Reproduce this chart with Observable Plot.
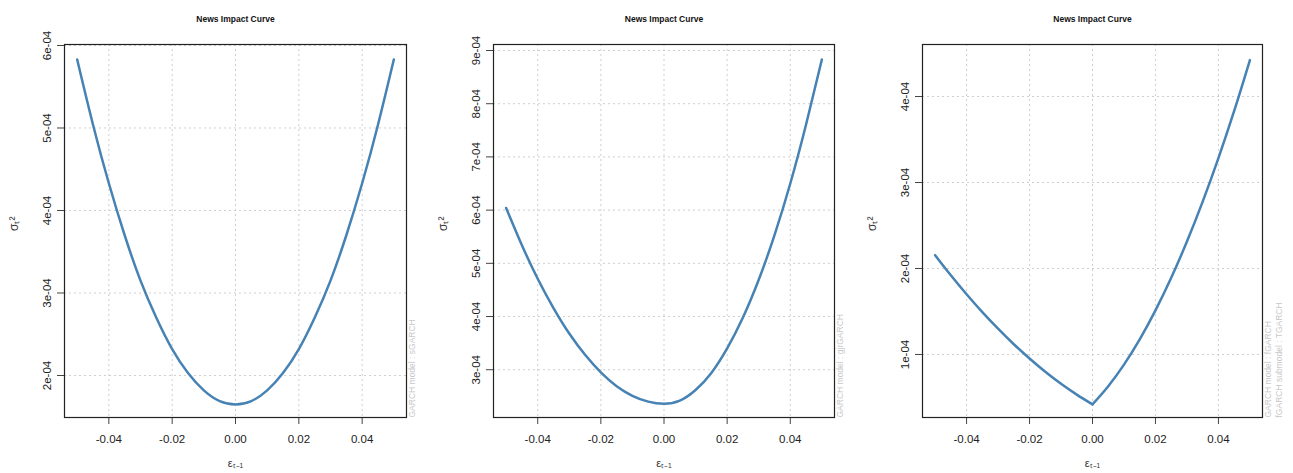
<!DOCTYPE html>
<html>
<head>
<meta charset="utf-8">
<script src="https://cdn.jsdelivr.net/npm/d3@7"></script>
<script src="https://cdn.jsdelivr.net/npm/@observablehq/plot@0.6"></script>
<style>
  html, body { margin: 0; padding: 0; background: #fff; }
  #row { display: flex; width: 1293px; height: 473px; }
</style>
</head>
<body>
<div id="row"></div>
<script>
// Shocks (x values) shared by all three panels
const eps = [-0.05, -0.045, -0.04, -0.035, -0.03, -0.025, -0.02, -0.015, -0.01, -0.005, 0,
             0.005, 0.01, 0.015, 0.02, 0.025, 0.03, 0.035, 0.04, 0.045, 0.05];

// Conditional variance
const sgarchVar = [5.83e-4, 5.04e-4, 4.33e-4, 3.70e-4, 3.15e-4, 2.70e-4, 2.32e-4, 2.03e-4, 1.82e-4, 1.69e-4, 1.65e-4,
                   1.69e-4, 1.82e-4, 2.03e-4, 2.32e-4, 2.70e-4, 3.15e-4, 3.70e-4, 4.33e-4, 5.04e-4, 5.83e-4];
const gjrVar = [6.04e-4, 5.34e-4, 4.71e-4, 4.16e-4, 3.68e-4, 3.28e-4, 2.95e-4, 2.69e-4, 2.51e-4, 2.40e-4, 2.36e-4,
                2.42e-4, 2.62e-4, 2.94e-4, 3.40e-4, 3.98e-4, 4.69e-4, 5.53e-4, 6.50e-4, 7.61e-4, 8.83e-4];
const tgarchVar = [2.155e-4, 1.921e-4, 1.700e-4, 1.493e-4, 1.300e-4, 1.119e-4, 0.953e-4, 0.799e-4, 0.659e-4, 0.533e-4, 0.42e-4,
                   0.630e-4, 0.882e-4, 1.176e-4, 1.513e-4, 1.892e-4, 2.313e-4, 2.777e-4, 3.283e-4, 3.832e-4, 4.423e-4];

// Tick labels
const xTicks = [-0.04, -0.02, 0, 0.02, 0.04];
const yTicks1 = [2e-4, 3e-4, 4e-4, 5e-4, 6e-4];
const yTicks2 = [3e-4, 4e-4, 5e-4, 6e-4, 7e-4, 8e-4, 9e-4];
const yTicks3 = [1e-4, 2e-4, 3e-4, 4e-4];

// Texts
const titleText = "News Impact Curve";
const xLabel = "εₜ₋₁";
const yLabel = "σₜ²";
const notes1 = ["GARCH model : sGARCH"];
const notes2 = ["GARCH model : gjrGARCH"];
const notes3 = ["GARCH model : fGARCH", "fGARCH submodel : TGARCH"];

const FONT = "'Liberation Sans', Arial, Helvetica, sans-serif";

function fmtE(d) {
  const [m, e] = d.toExponential(0).split("e");
  const ex = +e;
  return m + "e" + (ex < 0 ? "-" : "+") + String(Math.abs(ex)).padStart(2, "0");
}

function panel({values, yDomain, yTicks, notes, ml, mr, kink}) {
  const data = [];
  eps.forEach((e, i) => {
    if (kink) {
      // two branches meeting at 0 so the corner stays sharp
      if (e <= 0) data.push({e, v: values[i], side: "left"});
      if (e >= 0) data.push({e, v: values[i], side: "right"});
    } else {
      data.push({e, v: values[i], side: "all"});
    }
  });
  const noteMarks = notes.map((n, i) =>
    Plot.text([n], {frameAnchor: "bottom-right", dx: 8 + i * 11.5, rotate: -90, textAnchor: "start",
                    fill: "#c8c8c8", fontSize: 8.5}));
  return Plot.plot({
    width: 431,
    height: 473,
    marginTop: 44,
    marginBottom: 56,
    marginLeft: ml,
    marginRight: mr,
    style: {fontFamily: FONT, fontSize: "11.5px", color: "#222", background: "#fff"},
    x: {domain: [-0.054, 0.054]},
    y: {domain: yDomain},
    marks: [
      Plot.gridX(xTicks, {stroke: "#cfcfcf", strokeOpacity: 1, strokeDasharray: "2,3"}),
      Plot.gridY(yTicks, {stroke: "#cfcfcf", strokeOpacity: 1, strokeDasharray: "2,3"}),
      Plot.axisX(xTicks, {tickSize: 7, tickPadding: 10, tickFormat: d => d.toFixed(2), label: null, stroke: "#444"}),
      Plot.axisY(yTicks, {tickSize: 7, tickPadding: 7, tickRotate: -90, tickFormat: fmtE, label: null, stroke: "#444"}),
      Plot.line(data, {x: "e", y: "v", z: "side", stroke: "#4682B4", strokeWidth: 2.5, curve: kink ? "monotone-x" : "natural"}),
      Plot.frame({stroke: "#222", strokeWidth: 1.2}),
      Plot.text([titleText], {frameAnchor: "top", dy: -29, fontWeight: "bold", fontSize: 8.5, fill: "#111"}),
      Plot.text([xLabel], {frameAnchor: "bottom", dy: 49, fontSize: 11, fill: "#333"}),
      Plot.text([yLabel], {frameAnchor: "left", dx: -50, rotate: -90, fontSize: 12, fill: "#333"}),
      ...noteMarks
    ]
  });
}

const row = document.getElementById("row");
row.append(
  panel({values: sgarchVar, yDomain: [1.491e-4, 6.012e-4], yTicks: yTicks1, notes: notes1, ml: 64, mr: 25, kink: false}),
  panel({values: gjrVar, yDomain: [2.102e-4, 9.113e-4], yTicks: yTicks2, notes: notes2, ml: 62, mr: 28, kink: false}),
  panel({values: tgarchVar, yDomain: [0.267e-4, 4.605e-4], yTicks: yTicks3, notes: notes3, ml: 60, mr: 31, kink: true})
);
</script>
</body>
</html>
